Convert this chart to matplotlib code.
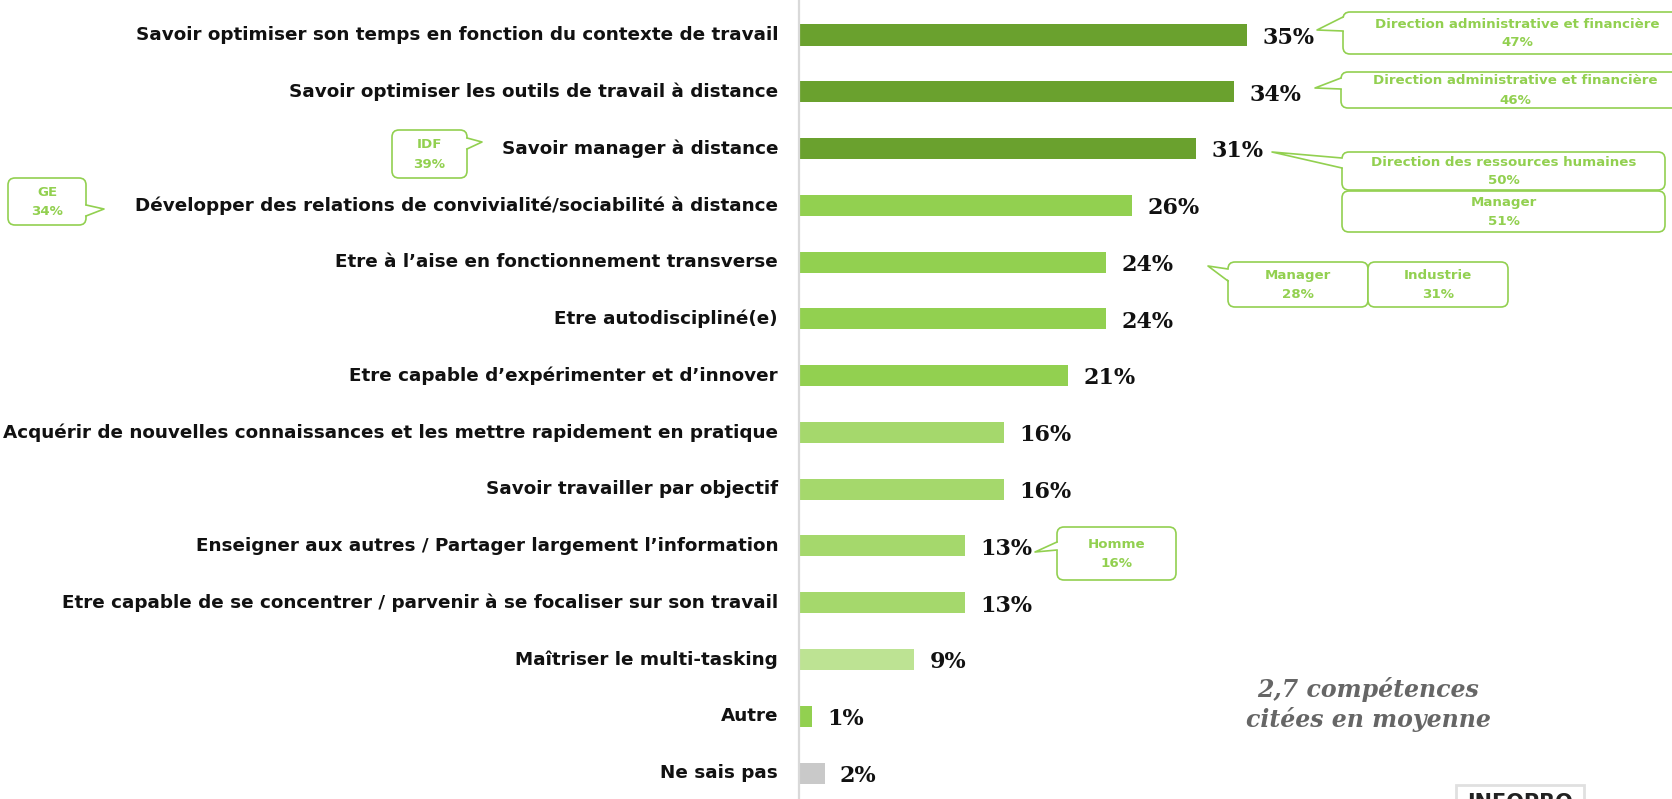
import matplotlib
matplotlib.use('Agg')
import matplotlib.pyplot as plt
from matplotlib.patches import FancyBboxPatch, Polygon, Rectangle
from matplotlib.transforms import Affine2D

W, H, DPI = 1672, 799, 100

categories = [
    'Savoir optimiser son temps en fonction du contexte de travail',
    'Savoir optimiser les outils de travail à distance',
    'Savoir manager à distance',
    'Développer des relations de convivialité/sociabilité à distance',
    'Etre à l’aise en fonctionnement transverse',
    'Etre autodiscipliné(e)',
    'Etre capable d’expérimenter et d’innover',
    'Acquérir de nouvelles connaissances et les mettre rapidement en pratique',
    'Savoir travailler par objectif',
    'Enseigner aux autres / Partager largement l’information',
    'Etre capable de se concentrer / parvenir à se focaliser sur son travail',
    'Maîtriser le multi-tasking',
    'Autre',
    'Ne sais pas',
]
values = [35, 34, 31, 26, 24, 24, 21, 16, 16, 13, 13, 9, 1, 2]
colors = ['#6aa12e'] * 3 + ['#92d050'] * 4 + ['#a5d86c'] * 4 + ['#bde393', '#92d050', '#c9c9c9']

# callouts: box (x0, y0, x1, y1) in pixels from top-left, tail (base1, tip, base2), text lines
callouts = [
    ((1343, 12, 1700, 54), ((1343, 17), (1317, 30), (1343, 31)),
     ['Direction administrative et financière', '47%']),
    ((1341, 72, 1700, 108), ((1341, 78), (1315, 88), (1341, 89)),
     ['Direction administrative et financière', '46%']),
    ((1342, 152, 1665, 190), ((1342, 158), (1272, 152), (1342, 168)),
     ['Direction des ressources humaines', '50%']),
    ((1342, 191, 1665, 232), None, ['Manager', '51%']),
    ((1228, 262, 1368, 307), ((1228, 269), (1208, 266), (1228, 281)),
     ['Manager', '28%']),
    ((1368, 262, 1508, 307), None, ['Industrie', '31%']),
    ((392, 130, 467, 178), ((467, 138), (482, 142), (467, 149)),
     ['IDF', '39%']),
    ((8, 178, 86, 225), ((86, 205), (104, 209), (86, 216)),
     ['GE', '34%']),
    ((1057, 527, 1176, 580), ((1057, 542), (1035, 552), (1057, 550)),
     ['Homme', '16%']),
]

GREEN = '#92d050'


def main():
    fig = plt.figure(figsize=(W / DPI, H / DPI), dpi=DPI)
    # pixel coords, origin bottom-left
    px = Affine2D().scale(1 / DPI) + fig.dpi_scale_trans

    # Axes: left edge on the vertical line, full height
    left = 799 / W
    ax = fig.add_axes([left, 0, 1 - left, 1])
    ax.set_xlim(0, (W - 799) / 12.8)
    row0, step = 35, 56.77
    ax.set_ylim((H - row0) / step, -row0 / step)

    y = list(range(len(values)))
    ax.barh(y, values, height=0.37, color=colors, zorder=2)

    for yi, v, c in zip(y, values, categories):
        ax.text(v + 1.2, yi + 0.05, f'{v}%', ha='left', va='center',
                fontsize=16, fontweight='bold', family='DejaVu Serif', color='#111111')
        ax.text(-1.64, yi, c, ha='right', va='center', fontsize=13.2,
                fontweight='bold', color='#111111', clip_on=False)

    for s in ('top', 'right', 'bottom'):
        ax.spines[s].set_visible(False)
    ax.spines['left'].set_color('#d9d9d9')
    ax.spines['left'].set_linewidth(1.6)
    ax.set_xticks([])
    ax.set_yticks([])

    # Callouts
    for (x0, y0, x1, y1), tail, lines in callouts:
        box = FancyBboxPatch((x0, H - y1), x1 - x0, y1 - y0,
                             boxstyle='round,pad=0,rounding_size=7',
                             transform=px, facecolor='white', edgecolor=GREEN,
                             linewidth=1.2, zorder=5)
        fig.add_artist(box)
        if tail is not None:
            (bx1, by1), (tx, ty), (bx2, by2) = tail
            inset = 2 if tx < x0 else -2
            fig.add_artist(Polygon([(bx1 + inset, H - by1), (tx, H - ty), (bx2 + inset, H - by2)],
                                   closed=True, transform=px, facecolor='white',
                                   edgecolor='none', zorder=6))
            fig.add_artist(plt.Line2D([bx1, tx, bx2], [H - by1, H - ty, H - by2], transform=px,
                                      color=GREEN, linewidth=1.2, zorder=7))
        cx = (x0 + x1) / 2 if x1 < W else x0 + 174
        ym = H - (y0 + y1) / 2
        fig.text(cx, ym + 9, lines[0], transform=px, ha='center', va='center',
                 fontsize=9.6, fontweight='bold', color=GREEN, zorder=8)
        fig.text(cx, ym - 10, lines[1], transform=px, ha='center', va='center',
                 fontsize=9.6, fontweight='bold', color=GREEN, zorder=8)

    # Average note
    fig.text(1368, H - 705, '2,7 compétences\ncitées en moyenne', transform=px,
             ha='center', va='center', fontsize=17, fontweight='bold',
             style='italic', family='DejaVu Serif', color='#666666',
             linespacing=1.25)

    # Logo box cut at the bottom
    fig.add_artist(Rectangle((1456, H - 815), 128, 30, transform=px, facecolor='white',
                             edgecolor='#e0e0e0', linewidth=2, zorder=9))
    fig.text(1520, H - 793, 'INFOPRO', transform=px, ha='center', va='top',
             fontsize=15, fontweight='bold', color='#222222', zorder=10)

    fig.savefig('out.png', dpi=DPI)


if __name__ == '__main__':
    main()
